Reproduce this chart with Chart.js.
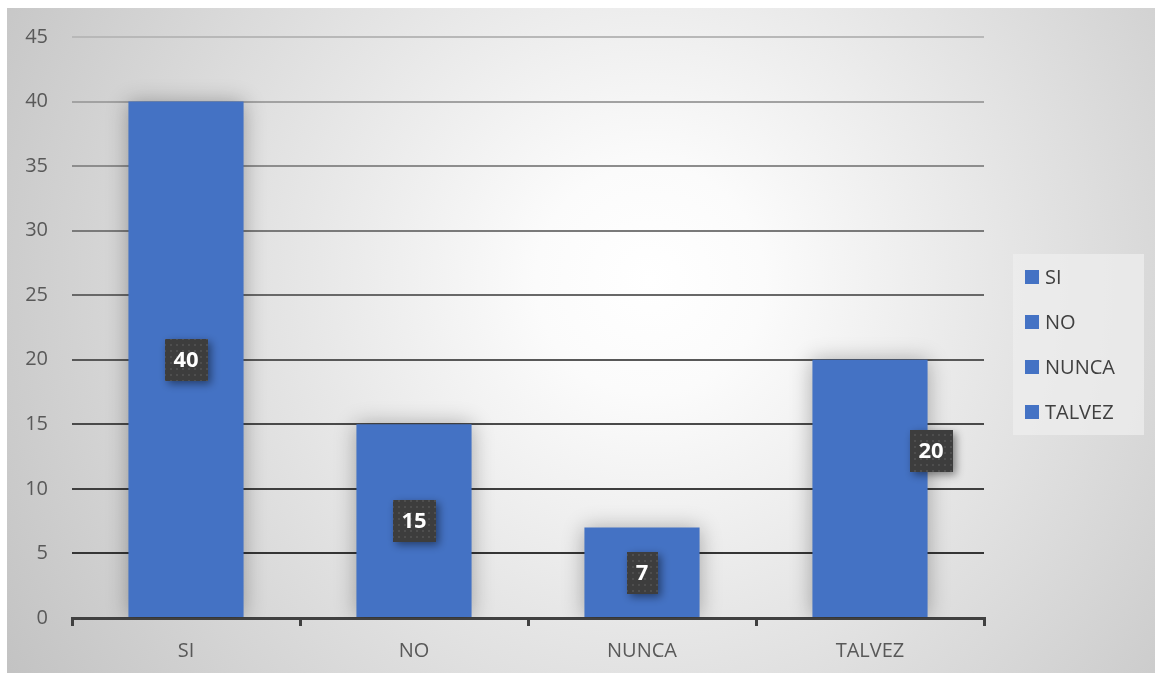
<!DOCTYPE html>
<html>
<head>
<meta charset="utf-8">
<script src="https://cdn.jsdelivr.net/npm/chart.js@4/dist/chart.umd.min.js"></script>
<style>
    html, body { margin: 0; padding: 0; background: #fff; }
    #contenedor { width: 1155px; height: 673px; }
</style>
</head>
<body>
<div id="contenedor"><canvas id="grafico"></canvas></div>
<script>
// datos del gráfico
const categorias = ['SI', 'NO', 'NUNCA', 'TALVEZ'];
const valores = [40, 15, 7, 20];
const marcasY = [0, 5, 10, 15, 20, 25, 30, 35, 40, 45];

// desplazamiento (px) de cada etiqueta respecto al centro de su barra
const desplazamientos = [[0, 0], [0, 0], [0, 0], [61, -38]];

const azul = '#4472c4';
const fuente = 'Open Sans';

// patrón punteado para las cajas de etiquetas
function crearPatron(ctx) {
    const c = document.createElement('canvas');
    c.width = 6;
    c.height = 6;
    const p = c.getContext('2d');
    p.fillStyle = '#3d3d3d';
    p.fillRect(0, 0, 6, 6);
    p.fillStyle = '#4e4e4e';
    p.fillRect(2, 2, 2, 2);
    return ctx.createPattern(c, 'repeat');
}

// color de la rejilla: más claro arriba, más oscuro abajo
function colorRejilla(v) {
    const t = Math.pow(v / 45, 1.5);
    const g = Math.round(0x30 + t * (0xb8 - 0x30));
    return `rgb(${g},${g},${g})`;
}

// fondo con degradado radial
const fondo = {
    id: 'fondo',
    beforeDraw(chart) {
        const { ctx, width, height } = chart;
        ctx.save();
        ctx.fillStyle = '#fff';
        ctx.fillRect(0, 0, width, height);
        const g = ctx.createRadialGradient(650, 280, 0, 650, 280, 760);
        g.addColorStop(0, '#ffffff');
        g.addColorStop(0.15, '#fbfbfb');
        g.addColorStop(1, '#c2c2c2');
        ctx.fillStyle = g;
        ctx.fillRect(7, 8, width - 7, height - 8);
        ctx.restore();
    }
};

// sombra suave alrededor de las barras
const sombra = {
    id: 'sombra',
    beforeDatasetsDraw(chart) {
        const ctx = chart.ctx;
        ctx.save();
        ctx.shadowColor = 'rgba(0,0,0,0.3)';
        ctx.shadowBlur = 20;
    },
    afterDatasetsDraw(chart) {
        chart.ctx.restore();
    }
};

// etiquetas de datos en cajas oscuras
let patron;
const etiquetas = {
    id: 'etiquetas',
    afterDraw(chart) {
        const ctx = chart.ctx;
        const meta = chart.getDatasetMeta(0);
        const y = chart.scales.y;
        if (!patron) patron = crearPatron(ctx);
        ctx.save();
        ctx.font = `bold 22px "${fuente}"`;
        ctx.textAlign = 'center';
        ctx.textBaseline = 'middle';
        meta.data.forEach((barra, i) => {
            const txt = String(valores[i]);
            const [dx, dy] = desplazamientos[i];
            const cx = barra.x + dx;
            const cy = y.getPixelForValue(valores[i] / 2) + dy;
            const w = Math.round(ctx.measureText(txt).width + 18);
            const h = 42;
            ctx.shadowColor = 'rgba(0,0,0,0.45)';
            ctx.shadowBlur = 8;
            ctx.shadowOffsetX = 3;
            ctx.shadowOffsetY = 3;
            ctx.fillStyle = patron;
            ctx.fillRect(Math.round(cx - w / 2), Math.round(cy - h / 2), w, h);
            ctx.shadowColor = 'transparent';
            ctx.fillStyle = '#ffffff';
            ctx.fillText(txt, cx, cy + 1);
        });
        ctx.restore();
    }
};

// leyenda a la derecha
const leyenda = {
    id: 'leyenda',
    afterDraw(chart) {
        const ctx = chart.ctx;
        const x0 = chart.chartArea.right + 29;
        const y0 = 254;
        ctx.save();
        ctx.fillStyle = 'rgba(238,238,238,0.75)';
        ctx.fillRect(x0, y0, 131, 181);
        ctx.font = `20px "${fuente}"`;
        ctx.textBaseline = 'middle';
        categorias.forEach((c, i) => {
            const yc = y0 + 23 + i * 45;
            ctx.fillStyle = azul;
            ctx.fillRect(x0 + 12, yc - 7, 14, 14);
            ctx.fillStyle = '#404040';
            ctx.fillText(c, x0 + 32, yc + 1);
        });
        ctx.restore();
    }
};

const ctx = document.getElementById('grafico').getContext('2d');
const chart = new Chart(ctx, {
    type: 'bar',
    data: {
        labels: categorias,
        datasets: [{
            data: valores,
            backgroundColor: azul,
            borderWidth: 0,
            categoryPercentage: 1,
            barPercentage: 0.505
        }]
    },
    options: {
        responsive: true,
        maintainAspectRatio: false,
        animation: false,
        layout: { padding: { top: 37, right: 171, left: 0, bottom: 0 } },
        plugins: {
            legend: { display: false },
            tooltip: { enabled: false }
        },
        scales: {
            x: {
                grid: { offset: true, drawOnChartArea: false, drawTicks: true, tickLength: 8, color: '#404040', lineWidth: 3 },
                border: { display: true, color: '#404040', width: 3 },
                ticks: { color: '#595959', font: { family: fuente, size: 20 }, padding: 13 },
                afterFit(s) { s.height = 55; }
            },
            y: {
                min: 0,
                max: 45,
                afterBuildTicks(s) { s.ticks = marcasY.map(v => ({ value: v })); },
                grid: { drawTicks: false, lineWidth: 2, color: c => colorRejilla(c.tick.value) },
                border: { display: false },
                ticks: { color: '#595959', font: { family: fuente, size: 20 }, padding: 24 },
                afterFit(s) { s.width = 72; }
            }
        }
    },
    plugins: [fondo, sombra, etiquetas, leyenda]
});
</script>
</body>
</html>
